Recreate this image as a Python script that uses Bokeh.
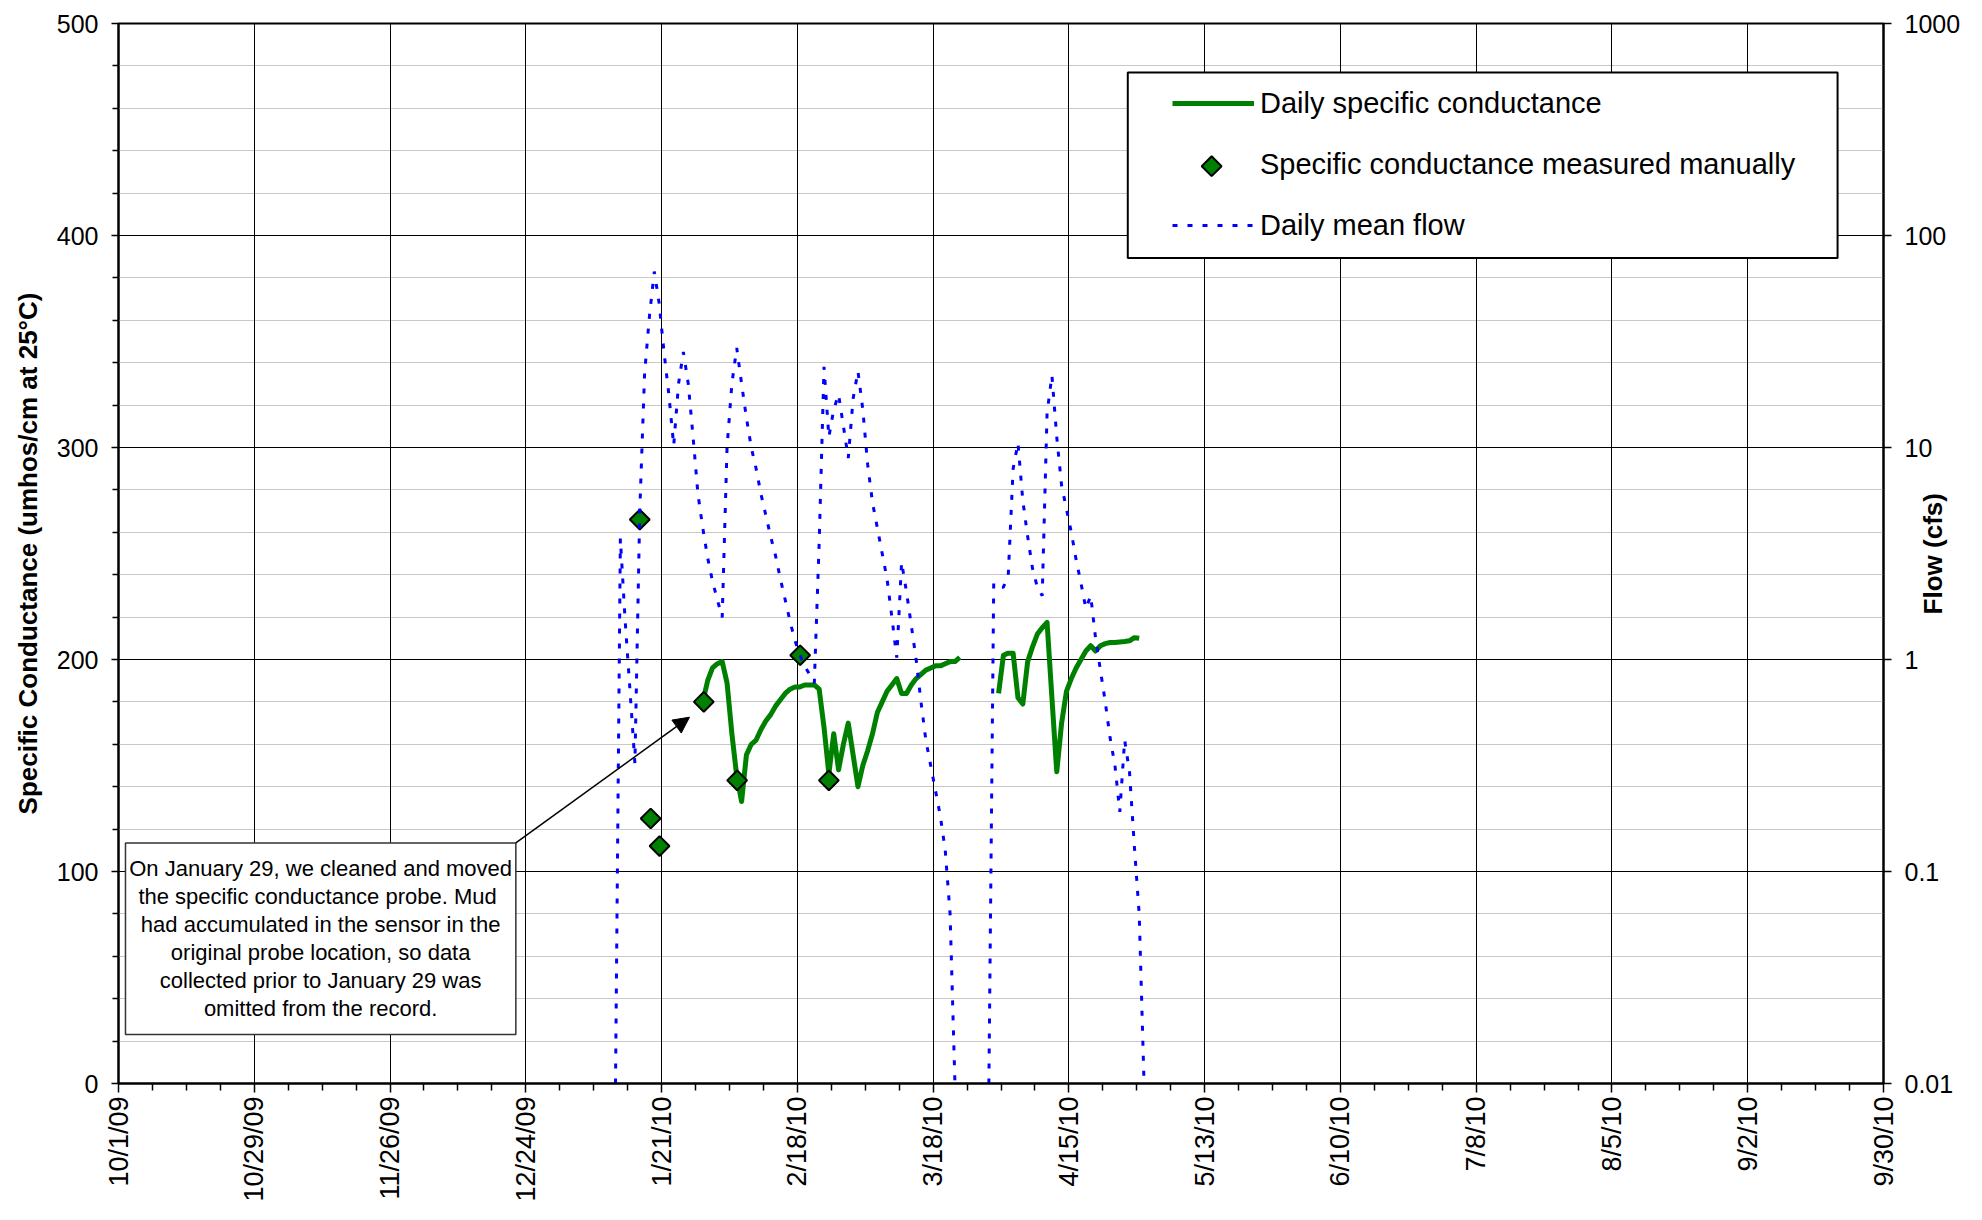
import pandas as pd
from math import pi
from bokeh.plotting import figure
from bokeh.models import (Range1d, LinearAxis, LogAxis, LogScale, FixedTicker, Grid,
                          Legend, LegendItem, Label, BoxAnnotation, Arrow, NormalHead)
from bokeh.embed import file_html
from bokeh.resources import INLINE

# ---------------- data ----------------
origin = pd.Timestamp("2009-10-01")

x_tick_labels = ["10/1/09", "10/29/09", "11/26/09", "12/24/09", "1/21/10", "2/18/10",
                 "3/18/10", "4/15/10", "5/13/10", "6/10/10", "7/8/10", "8/5/10",
                 "9/2/10", "9/30/10"]
y_left_ticks = [0, 100, 200, 300, 400, 500]
y_right_ticks = [0.01, 0.1, 1, 10, 100, 1000]
y_right_labels = ["0.01", "0.1", "1", "10", "100", "1000"]

# daily mean flow (cfs), one value per day starting 2010-01-11; None = no value
flow_start = "2010-01-11 12:00"
flow_cfs = [0.01, 3.72, 1.51, 0.708, 0.324, 5.01, 22.4, 41.7, 67.6, 47.9,
            28.2, 17.8, 10.2, 20.0, 28.2, 20.0, 11.2, 6.03, 4.17, 3.02,
            2.34, 1.91, 1.58, 10.0, 20.0, 29.5, 20.0, 13.8, 10.0, 7.94,
            6.03, 4.79, 3.80, 3.09, 2.40, 1.91, 1.51, 1.23, 1.05, 0.933,
            0.851, 0.776, 3.55, 24.0, 11.2, 15.1, 17.8, 12.6, 8.91, 17.0,
            22.9, 15.1, 8.32, 5.50, 4.17, 3.16, 2.40, 1.58, 1.02, 2.88,
            2.09, 1.45, 1.00, 0.631, 0.417, 0.316, 0.240, 0.182, 0.126, 0.063,
            0.01,
            None, None, None, None, None, None,
            0.01, 2.29, 2.19, 2.19, 2.51, 7.94, 10.5, 5.62, 3.80, 2.69,
            2.19, 2.00, 14.5, 21.9, 11.2, 6.61, 5.13, 3.98, 2.95, 2.29,
            1.74, 2.00, 1.26, 0.891, 0.631, 0.427, 0.316, 0.191, 0.417, 0.295,
            0.132, 0.063, 0.01]

# daily specific conductance (umhos/cm), one value per day starting 2010-01-29
cond_start = "2010-01-29 12:00"
cond_daily = [180, 190, 196, 198, 199, 189, 165, 145, 133, 155,
              160, 162, 167, 171, 174, 178, 181, 184, 186, 187,
              187, 188, 188, 188, 186, 168, 146, 165, 148, 160,
              170, 155, 140, 150, 157, 165, 175, 180, 185, 188,
              191, 184, 184, 188, 191, 193, 195, 196, 197, 197,
              198, 199, 199, 201,
              None, None, None, None, None, None, None,
              184, 202, 203, 203, 182, 179, 199, 206, 212, 215,
              217.5, 182, 147, 170, 185, 191, 196, 200, 204, 206.5,
              204, 206.5, 207.5, 208, 208, 208.3, 208.5, 208.8, 210.3, 210]

# specific conductance measured manually
manual_dates = ["2010-01-16 12:00", "2010-01-18 18:00", "2010-01-20 14:00",
                "2010-01-29 17:00", "2010-02-05 14:00", "2010-02-18 14:00",
                "2010-02-24 12:00"]
manual_values = [266, 125, 112, 180, 143, 202, 143]

note_text = ("On January 29, we cleaned and moved\n"
             "the specific conductance probe.  Mud\n"
             "had accumulated in the sensor in the\n"
             "original probe location, so data\n"
             "collected prior to January 29 was\n"
             "omitted from the record.")

# ---------------- helpers ----------------
def to_days(ts):
    return [(pd.Timestamp(t) - origin) / pd.Timedelta(days=1) for t in ts]

x_tick_days = [int(round(d)) for d in to_days(pd.to_datetime(x_tick_labels, format="%m/%d/%y"))]
x_minor_days = [d + k for d in x_tick_days[:-1] for k in (7, 14, 21)]
y_left_minor = [v + k for v in y_left_ticks[:-1] for k in (20, 40, 60, 80)]

flow_x = to_days(pd.date_range(flow_start, periods=len(flow_cfs), freq="D"))
flow_y = [float("nan") if v is None else v for v in flow_cfs]
cond_x = to_days(pd.date_range(cond_start, periods=len(cond_daily), freq="D"))
cond_y = [float("nan") if v is None else v for v in cond_daily]
man_x = to_days(manual_dates)

X0, X1 = x_tick_days[0], x_tick_days[-1]
Y0, Y1 = y_left_ticks[0], y_left_ticks[-1]

# ---------------- layout ----------------
W, H = 1966, 1204
BL, BR, BT, BB = 118, 80, 23, 119
FW, FH = W - BL - BR, H - BT - BB

def dx(px):  # frame pixel (from left) -> data x
    return X0 + px / FW * (X1 - X0)

def dy(py):  # frame pixel (from top) -> data y
    return Y1 - py / FH * (Y1 - Y0)

FONT = "Liberation Sans"

p = figure(width=W, height=H, output_backend="svg", toolbar_location=None,
           x_range=Range1d(X0, X1), y_range=Range1d(Y0, Y1),
           x_axis_type=None, y_axis_type=None,
           min_border_left=BL, min_border_right=BR,
           min_border_top=BT, min_border_bottom=BB)
p.extra_y_ranges = {"flow": Range1d(y_right_ticks[0], y_right_ticks[-1])}
p.extra_y_scales = {"flow": LogScale()}
p.background_fill_color = "white"
p.border_fill_color = "white"
p.outline_line_color = "black"
p.outline_line_width = 2

xticker = FixedTicker(ticks=x_tick_days, minor_ticks=x_minor_days)
yticker = FixedTicker(ticks=y_left_ticks, minor_ticks=y_left_minor)
rticker = FixedTicker(ticks=y_right_ticks, minor_ticks=[])

p.add_layout(Grid(dimension=1, ticker=yticker, grid_line_color="#000000", grid_line_width=1,
                  minor_grid_line_color="#c8c8c8", minor_grid_line_width=1))
p.add_layout(Grid(dimension=0, ticker=xticker, grid_line_color="#000000", grid_line_width=1))

xaxis = LinearAxis(ticker=xticker,
                   major_label_overrides={d: l for d, l in zip(x_tick_days, x_tick_labels)},
                   major_label_orientation=pi / 2)
yaxis = LinearAxis(ticker=yticker, axis_label="Specific Conductance (umhos/cm at 25°C)")
raxis = LogAxis(y_range_name="flow", ticker=rticker,
                major_label_overrides={t: l for t, l in zip(y_right_ticks, y_right_labels)})

for ax in (xaxis, yaxis, raxis):
    ax.axis_line_color = "black"
    ax.axis_line_width = 2
    ax.major_tick_line_color = "black"
    ax.major_tick_line_width = 1.5
    ax.minor_tick_line_color = "black"
    ax.minor_tick_line_width = 1.5
    ax.major_tick_in = 0
    ax.minor_tick_in = 0
    ax.major_label_text_font = FONT
    ax.major_label_text_color = "black"
    ax.axis_label_text_font = FONT
    ax.axis_label_text_font_style = "bold"
    ax.axis_label_text_font_size = "26px"
    ax.axis_label_text_color = "black"

xaxis.major_tick_out = 9
xaxis.minor_tick_out = 7
xaxis.major_label_standoff = 4
xaxis.major_label_text_font_size = "27px"

yaxis.major_tick_out = 7
yaxis.minor_tick_out = 6
yaxis.major_label_standoff = 13
yaxis.major_label_text_font_size = "25px"
yaxis.axis_label_standoff = 11

raxis.major_tick_out = 8
raxis.minor_tick_out = 0
raxis.major_label_standoff = 13
raxis.major_label_text_font_size = "25px"

p.add_layout(xaxis, "below")
p.add_layout(yaxis, "left")
p.add_layout(raxis, "right")

# right axis title "Flow (cfs)": a label-only axis stacked outside the flow axis and pulled
# back beside its tick labels, so the title reads bottom-to-top like the reference
title_tick = dy(FH / 2 + 61)
rtitle = LinearAxis(ticker=FixedTicker(ticks=[title_tick], minor_ticks=[]),
                    major_label_overrides={title_tick: "Flow (cfs)"},
                    major_label_orientation=pi / 2,
                    axis_line_color=None, major_tick_line_color=None, minor_tick_line_color=None,
                    major_tick_in=0, major_tick_out=0, minor_tick_in=0, minor_tick_out=0,
                    major_label_standoff=-30,
                    major_label_text_font=FONT, major_label_text_font_size="26px",
                    major_label_text_font_style="bold", major_label_text_color="black")
p.add_layout(rtitle, "right")

# ---------------- series ----------------
r_cond = p.line(cond_x, cond_y, line_color="#008000", line_width=5, line_join="round")
r_man = p.scatter(man_x, manual_values, marker="square", angle=pi / 4, size=14,
                  fill_color="#008000", line_color="black", line_width=2)
r_flow = p.line(flow_x, flow_y, y_range_name="flow", line_color="#0000ff",
                line_width=3, line_dash="5 10")

# ---------------- annotation box + arrow ----------------
note_l, note_t, note_r, note_b = 7, 821, 398, 1013
p.add_layout(BoxAnnotation(left=dx(note_l), right=dx(note_r), top=dy(note_t), bottom=dy(note_b),
                           fill_color="white", fill_alpha=1, line_color="#333333",
                           line_alpha=1, line_width=1.5))
p.add_layout(Label(x=dx((note_l + note_r) / 2), y=dy((note_t + note_b) / 2), text=note_text,
                   text_font=FONT, text_font_size="22px", text_color="black",
                   text_align="center", text_baseline="middle", text_line_height=1.12))
p.add_layout(Arrow(x_start=dx(note_r), y_start=dy(note_t), x_end=dx(572), y_end=dy(695),
                   line_color="black", line_width=1.5,
                   end=NormalHead(size=16, fill_color="black", line_color="black")))

# ---------------- legend ----------------
leg_l, leg_t, leg_r, leg_b = 1011, 49, 1722, 235
p.add_layout(BoxAnnotation(left=dx(leg_l), right=dx(leg_r), top=dy(leg_t), bottom=dy(leg_b),
                           fill_color="white", fill_alpha=1, line_color="black",
                           line_alpha=1, line_width=2))
# legend proxy for the manual points (icon drawn rotated below, as Bokeh legends ignore angle)
r_man_proxy = p.scatter(x=[], y=[], marker="square", size=14, fill_alpha=0, line_alpha=0)
leg_gx, leg_gw, leg_row, leg_sp = 1054, 82, 40, 21
legend = Legend(items=[LegendItem(label="Daily specific conductance", renderers=[r_cond]),
                       LegendItem(label="Specific conductance measured manually", renderers=[r_man_proxy]),
                       LegendItem(label="Daily mean flow", renderers=[r_flow])],
                location=(leg_gx, FH - 224), orientation="vertical",
                padding=0, margin=0, spacing=leg_sp, label_height=leg_row, glyph_height=leg_row,
                glyph_width=leg_gw, label_standoff=6,
                label_text_font=FONT, label_text_font_size="29px", label_text_color="black",
                border_line_alpha=0, background_fill_alpha=0)
p.add_layout(legend)
icon_cx = leg_gx + leg_gw / 2
icon_cy = 224 - 3 * leg_row - 2 * leg_sp + leg_row + leg_sp + leg_row / 2
p.scatter([dx(icon_cx)], [dy(icon_cy)], marker="square", angle=pi / 4, size=14,
          fill_color="#008000", line_color="black", line_width=2, level="overlay")

open("out.html", "w").write(file_html(p, INLINE))
